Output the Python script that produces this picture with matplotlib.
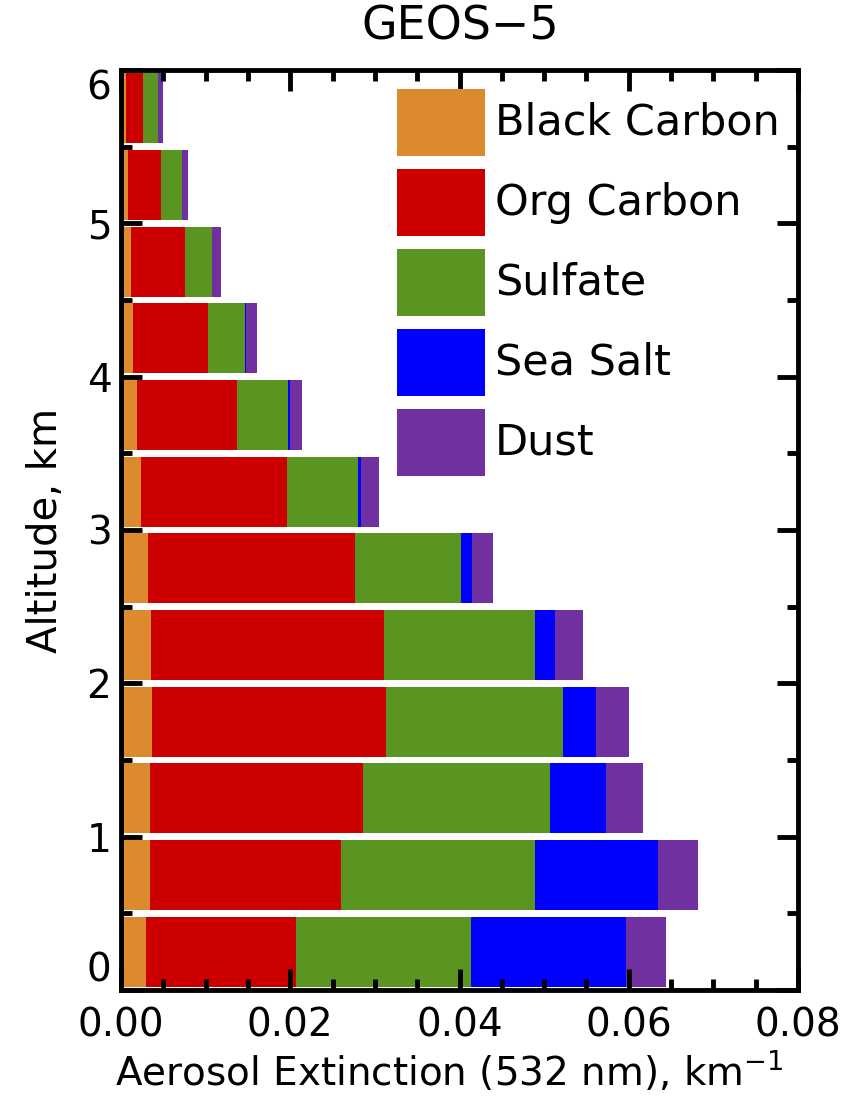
import matplotlib
matplotlib.use("Agg")
import matplotlib.pyplot as plt
from matplotlib.patches import Rectangle
from matplotlib.ticker import MultipleLocator
import numpy as np

plt.rcParams['font.family'] = ['DejaVu Sans']

# Altitude bins (km): bottom edge of each 0.5 km layer
layer_bottoms = [0.0, 0.5, 1.0, 1.5, 2.0, 2.5, 3.0, 3.5, 4.0, 4.5, 5.0, 5.5]

# Aerosol extinction by species (km^-1), one value per layer
black_carbon = [0.0030, 0.0034, 0.0034, 0.0037, 0.0035, 0.0032, 0.0024, 0.0019, 0.0014, 0.0012, 0.0008, 0.0006]
org_carbon   = [0.0177, 0.0226, 0.0252, 0.0276, 0.0276, 0.0245, 0.0172, 0.0118, 0.0089, 0.0063, 0.0039, 0.0020]
sulfate      = [0.0207, 0.0229, 0.0221, 0.0209, 0.0178, 0.0125, 0.0084, 0.0060, 0.0044, 0.0032, 0.0025, 0.0018]
sea_salt     = [0.0183, 0.0146, 0.0066, 0.0039, 0.0024, 0.0013, 0.0004, 0.0003, 0.0001, 0.0001, 0.0000, 0.0000]
dust         = [0.0047, 0.0047, 0.0044, 0.0039, 0.0033, 0.0025, 0.0021, 0.0014, 0.0013, 0.0010, 0.0007, 0.0006]

species = ["Black Carbon", "Org Carbon", "Sulfate", "Sea Salt", "Dust"]
colors = ["#DB8A2D", "#CC0000", "#5B9521", "#0000FF", "#7030A0"]
series = [black_carbon, org_carbon, sulfate, sea_salt, dust]

fig = plt.figure(figsize=(8.5, 11), dpi=100)
ax = fig.add_axes([0.1424, 0.1, 0.7964, 0.8364])

layer_height = 0.5
centers = np.array(layer_bottoms) + layer_height / 2
left = np.zeros(len(layer_bottoms))
for vals, col in zip(series, colors):
    vals = np.array(vals)
    ax.barh(centers, vals, height=0.455, left=left, color=col, edgecolor='none')
    left += vals

ax.set_xlim(0, 0.08)
ax.set_ylim(0, 6)

ax.xaxis.set_minor_locator(MultipleLocator(0.005))
ax.yaxis.set_minor_locator(MultipleLocator(0.5))
ax.set_xticks(np.arange(0, 0.081, 0.02))
ax.set_xticklabels([f"{v:.2f}" for v in np.arange(0, 0.081, 0.02)])
ax.set_yticks(range(0, 7))
ax.set_yticklabels([str(v) for v in range(0, 7)])

for s in ax.spines.values():
    s.set_linewidth(3.5)
    s.set_zorder(5)

ax.tick_params(which='both', direction='in', top=True, right=True, width=3.5)
ax.tick_params(which='major', length=15)
ax.tick_params(which='minor', length=8)
ax.tick_params(axis='x', labelsize=28, pad=12)
ax.tick_params(axis='y', labelsize=28, pad=7)

# keep the end labels of the altitude axis inside the frame
ylabels = ax.get_yticklabels()
ylabels[0].set_va('bottom')
ylabels[-1].set_va('top')

ax.set_xlabel("Aerosol Extinction (532 nm), km$^{-1}$", fontsize=28)
ax.xaxis.set_label_coords(0.485, -0.064)
ax.set_ylabel("Altitude, km", fontsize=29, labelpad=15)
fig.text(0.541, 0.975, "GEOS\u22125", ha='center', va='center', fontsize=33)

# Legend boxes with labels
box_x, box_w, box_h = 0.4077, 0.130, 0.0728
top = 0.9793
step = 0.087
for i, (name, col) in enumerate(zip(species, colors)):
    y_top = top - i * step
    ax.add_patch(Rectangle((box_x, y_top - box_h), box_w, box_h, transform=ax.transAxes,
                           facecolor=col, edgecolor='none', zorder=4))
    ax.text(0.5525, y_top - box_h / 2, name, transform=ax.transAxes,
            ha='left', va='center', fontsize=31, zorder=4)

fig.savefig("out.png", dpi=100)
